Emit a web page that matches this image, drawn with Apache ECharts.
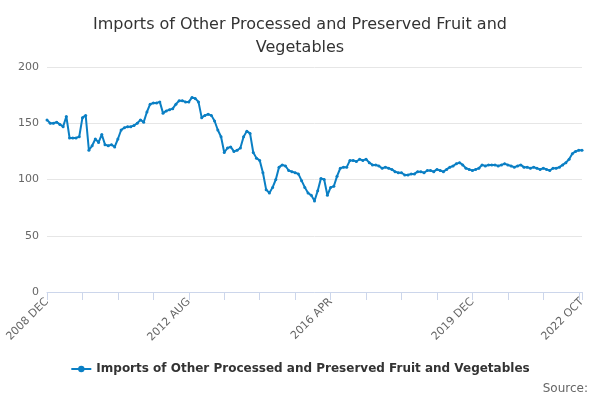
<!DOCTYPE html>
<html><head><meta charset="utf-8">
<script src="https://cdn.jsdelivr.net/npm/echarts@6/dist/echarts.min.js"></script>
<style>html,body{margin:0;padding:0;background:#fff}#c{width:600px;height:400px}</style>
</head><body><div id="c"></div>
<script>
const seriesName = 'Imports of Other Processed and Preserved Fruit and Vegetables';
const values = [153,150,150,151,149,147,156,137,137,137,138,155,157,126,130,136,133,140,131,130,131,129,136,144,146,147,147,148,150,153,151,160,167,168,168,169,159,161,162,163,167,170,170,169,169,173,172,169,155,157,158,157,152,144,138,124,128,129,125,126,128,138,143,141,124,119,117,106,91,88,93,100,111,113,112,108,107,106,105,99,93,88,86,81,90,101,100,86,93,94,103,110,111,111,117,117,116,118,117,118,115,113,113,112,110,111,110,109,107,106,106,104,104,105,105,107,107,106,108,108,107,109,108,107,109,111,112,114,115,113,110,109,108,109,110,113,112,113,113,113,112,113,114,113,112,111,112,113,111,111,110,111,110,109,110,109,108,110,110,111,113,115,118,123,125,126,126];
const months = ['JAN','FEB','MAR','APR','MAY','JUN','JUL','AUG','SEP','OCT','NOV','DEC'];
const categories = [];
for (let i = 0; i < values.length; i++) {
  const m = 11 + i;
  categories.push((2008 + Math.floor(m / 12)) + ' ' + months[m % 12]);
}
const last = values.length - 1;
const chart = echarts.init(document.getElementById('c'));
chart.setOption({
  animation: false,
  title: {
    text: 'Imports of Other Processed and Preserved Fruit and\nVegetables',
    left: 'center', top: 8,
    textStyle: {fontFamily: 'DejaVu Sans', fontSize: 16, fontWeight: 'normal', color: '#333', lineHeight: 23}
  },
  grid: {left: 47, right: 18, top: 67, bottom: 108},
  legend: {
    bottom: 20, left: 'center',
    itemWidth: 20, itemHeight: 8,
    textStyle: {fontFamily: 'DejaVu Sans', fontSize: 12, fontWeight: 'bold', color: '#333'},
    data: [seriesName]
  },
  graphic: [{type: 'text', right: 12, bottom: 5, style: {text: 'Source:', fontFamily: 'DejaVu Sans', fontSize: 12, fill: '#666'}}],
  xAxis: {
    type: 'category', data: categories, boundaryGap: false,
    axisLine: {lineStyle: {color: '#ccd6eb'}},
    axisTick: {interval: (i) => i % 11 === 0 || i === last, lineStyle: {color: '#ccd6eb'}, length: 8},
    axisLabel: {interval: (i) => i % 44 === 0 || i === last, rotate: 45, color: '#666', fontFamily: 'DejaVu Sans', fontSize: 11}
  },
  yAxis: {
    type: 'value', min: 0, max: 200, interval: 50,
    axisLabel: {color: '#666', fontFamily: 'DejaVu Sans', fontSize: 11},
    splitLine: {lineStyle: {color: '#e6e6e6'}}
  },
  series: [{
    name: seriesName, type: 'line', data: values,
    symbol: 'circle', symbolSize: 3, showSymbol: true, showAllSymbol: true,
    lineStyle: {width: 2, color: '#0a7fc4'}, itemStyle: {color: '#0a7fc4'}
  }]
});
</script></body></html>
